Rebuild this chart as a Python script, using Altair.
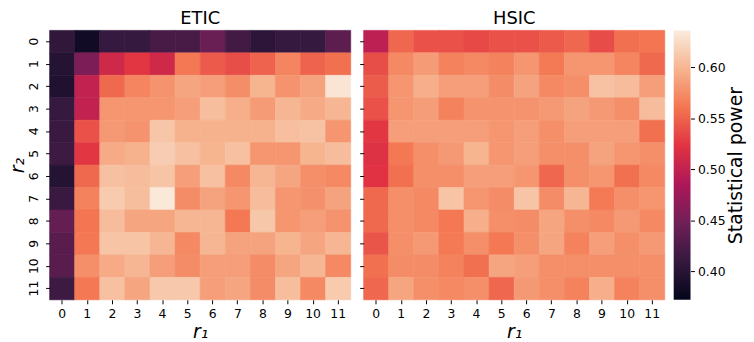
import altair as alt
import pandas as pd

r_ticks = list(range(12))

etic = [
    [0.407, 0.383, 0.410, 0.410, 0.422, 0.422, 0.443, 0.418, 0.403, 0.410, 0.410, 0.435],
    [0.398, 0.455, 0.510, 0.525, 0.510, 0.562, 0.545, 0.538, 0.550, 0.570, 0.550, 0.557],
    [0.395, 0.500, 0.553, 0.570, 0.578, 0.590, 0.585, 0.575, 0.598, 0.578, 0.588, 0.632],
    [0.410, 0.500, 0.580, 0.580, 0.580, 0.585, 0.605, 0.595, 0.583, 0.600, 0.593, 0.600],
    [0.412, 0.540, 0.582, 0.578, 0.610, 0.597, 0.597, 0.597, 0.597, 0.606, 0.608, 0.580],
    [0.415, 0.525, 0.592, 0.597, 0.615, 0.607, 0.598, 0.607, 0.580, 0.580, 0.598, 0.604],
    [0.398, 0.553, 0.607, 0.604, 0.609, 0.585, 0.607, 0.572, 0.600, 0.590, 0.576, 0.572],
    [0.412, 0.568, 0.614, 0.605, 0.634, 0.574, 0.588, 0.580, 0.604, 0.580, 0.577, 0.588],
    [0.440, 0.560, 0.604, 0.590, 0.590, 0.600, 0.600, 0.562, 0.611, 0.580, 0.585, 0.578],
    [0.432, 0.562, 0.609, 0.609, 0.600, 0.572, 0.600, 0.588, 0.588, 0.598, 0.590, 0.600],
    [0.432, 0.576, 0.593, 0.600, 0.585, 0.574, 0.585, 0.585, 0.574, 0.590, 0.600, 0.572],
    [0.415, 0.562, 0.607, 0.590, 0.612, 0.612, 0.585, 0.590, 0.574, 0.605, 0.572, 0.614],
]

hsic = [
    [0.497, 0.552, 0.540, 0.540, 0.535, 0.540, 0.540, 0.545, 0.552, 0.537, 0.557, 0.560],
    [0.538, 0.572, 0.583, 0.568, 0.572, 0.568, 0.580, 0.563, 0.580, 0.580, 0.570, 0.553],
    [0.546, 0.580, 0.595, 0.585, 0.585, 0.574, 0.588, 0.572, 0.576, 0.608, 0.604, 0.585],
    [0.540, 0.580, 0.584, 0.568, 0.578, 0.578, 0.578, 0.582, 0.588, 0.582, 0.576, 0.604],
    [0.525, 0.585, 0.585, 0.585, 0.585, 0.580, 0.585, 0.576, 0.585, 0.585, 0.585, 0.557],
    [0.520, 0.562, 0.576, 0.582, 0.598, 0.580, 0.585, 0.576, 0.576, 0.588, 0.580, 0.576],
    [0.522, 0.557, 0.576, 0.576, 0.585, 0.585, 0.580, 0.552, 0.576, 0.580, 0.557, 0.572],
    [0.553, 0.576, 0.572, 0.609, 0.580, 0.574, 0.609, 0.574, 0.600, 0.563, 0.576, 0.580],
    [0.553, 0.576, 0.572, 0.562, 0.595, 0.576, 0.574, 0.590, 0.576, 0.572, 0.582, 0.572],
    [0.542, 0.576, 0.582, 0.563, 0.576, 0.562, 0.576, 0.590, 0.568, 0.585, 0.576, 0.582],
    [0.557, 0.574, 0.574, 0.568, 0.557, 0.590, 0.585, 0.576, 0.576, 0.576, 0.576, 0.576],
    [0.552, 0.590, 0.576, 0.572, 0.576, 0.552, 0.582, 0.576, 0.568, 0.595, 0.568, 0.576],
]

cbar_ticks = [0.40, 0.45, 0.50, 0.55, 0.60]
vmin, vmax = 0.372, 0.636

rocket = ["#03051a", "#35193e", "#701f57", "#ad1759", "#e13342", "#f37651", "#f6b48f", "#faebdd"]
n = len(rocket)
stops_val = [vmin + (vmax - vmin) * i / (n - 1) for i in range(n)]

FONT = "DejaVu Sans"

def to_df(mat):
    rows = []
    for i, row in enumerate(mat):
        for j, v in enumerate(row):
            rows.append({"r1": j, "r2": i, "power": v})
    return pd.DataFrame(rows)

color_scale = alt.Scale(domain=stops_val, range=rocket, interpolate="rgb", clamp=True)

def panel(name, mat, first):
    yaxis = alt.Axis(
        title="r₂" if first else None,
        labels=first,
        labelAngle=270,
        labelFontSize=12.5,
        labelPadding=5,
        tickSize=4,
        titleFontSize=19,
        titleFontStyle="italic",
        titleFontWeight="normal",
        titlePadding=0,
    )
    xaxis = alt.Axis(
        title="r₁",
        labelAngle=0,
        labelFontSize=12.5,
        labelPadding=4,
        tickSize=4,
        titleFontSize=19,
        titleFontStyle="italic",
        titleFontWeight="normal",
        titlePadding=3,
    )
    return alt.Chart(to_df(mat)).mark_rect(strokeWidth=0.6).encode(
        x=alt.X("r1:O", sort=r_ticks, axis=xaxis,
                scale=alt.Scale(paddingInner=0, paddingOuter=0)),
        y=alt.Y("r2:O", sort=r_ticks, axis=yaxis,
                scale=alt.Scale(paddingInner=0, paddingOuter=0)),
        color=alt.Color("power:Q", scale=color_scale, legend=None),
        stroke=alt.Stroke("power:Q", scale=color_scale, legend=None),
    ).properties(
        width=304, height=272,
        title=alt.TitleParams(name, fontSize=18, font=FONT, fontWeight="normal", offset=2),
    )

grad = alt.Gradient(
    gradient="linear",
    stops=[alt.GradientStop(color=c, offset=i / (n - 1)) for i, c in enumerate(rocket)],
    x1=0, x2=0, y1=1, y2=0,
)

cbar = alt.Chart(pd.DataFrame({"lo": [vmin], "hi": [vmax]})).mark_rect(fill=grad).encode(
    y=alt.Y("lo:Q", scale=alt.Scale(domain=[vmin, vmax], nice=False, zero=False),
            axis=alt.Axis(orient="right", values=cbar_ticks, format=".2f",
                          title="Statistical power", titleAngle=270, titleBaseline="top",
                          titleFontSize=19, titleFontWeight="normal", titlePadding=2,
                          labelFontSize=12.5, labelPadding=3, tickSize=4,
                          domain=False, grid=False)),
    y2="hi:Q",
    x=alt.value(0), x2=alt.value(17),
).properties(width=17, height=272)

chart = alt.hconcat(
    alt.hconcat(panel("ETIC", etic, True), panel("HSIC", hsic, False), spacing=7),
    cbar,
    spacing=8,
).properties(
    padding={"left": 0, "top": 0, "right": 0, "bottom": 0}
).configure_view(stroke=None).configure_axis(
    domain=False, grid=False, labelFont=FONT, titleFont=FONT,
    tickColor="#000000", labelColor="#000000", titleColor="#000000",
).configure_title(font=FONT, color="#000000")

chart.save("out.html", embed_options={"renderer": "svg", "actions": False})
